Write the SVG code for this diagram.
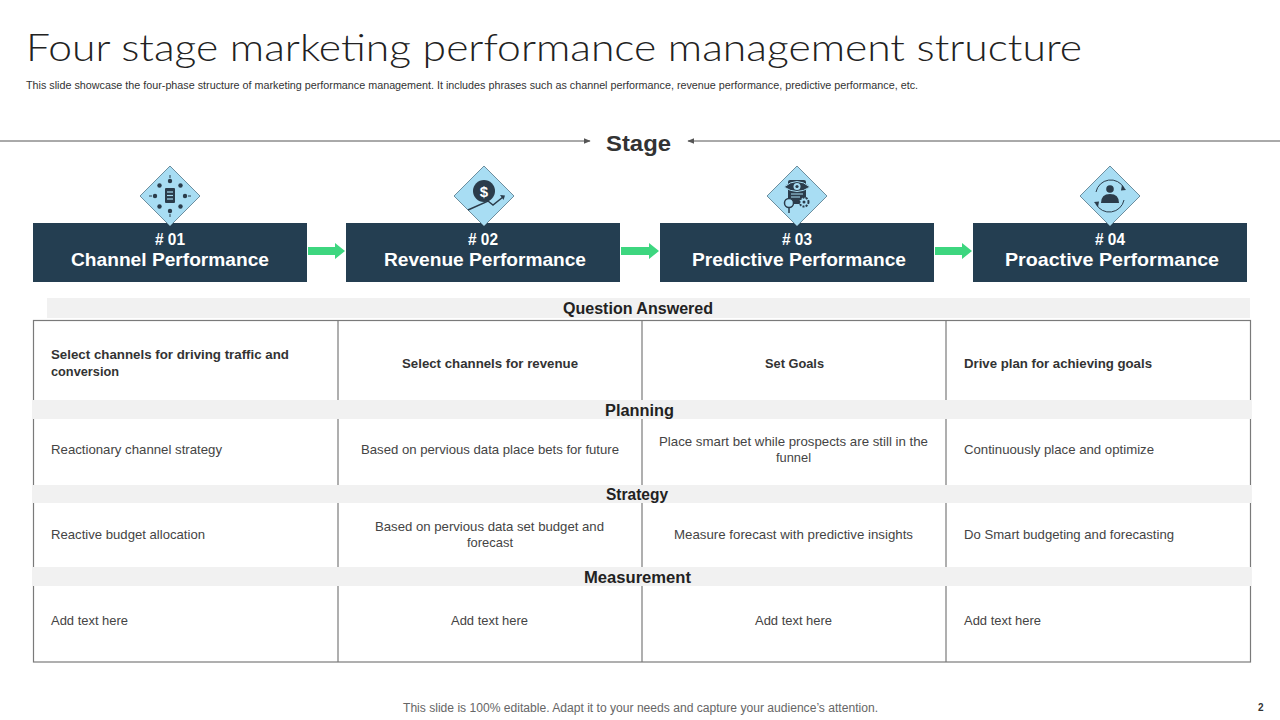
<svg xmlns="http://www.w3.org/2000/svg" width="1280" height="720" viewBox="0 0 1280 720">
<style>
.title{font-family:"Lato","Liberation Sans",sans-serif;font-weight:300;font-size:38px;fill:#222}
.sub{font-family:"Liberation Sans",sans-serif;font-size:10px;fill:#333}
.stage{font-family:"Liberation Sans",sans-serif;font-weight:bold;font-size:22px;fill:#333}
.num{font-family:"Liberation Sans",sans-serif;font-weight:bold;font-size:16px;fill:#fff}
.name{font-family:"Liberation Sans",sans-serif;font-weight:bold;font-size:19px;fill:#fff}
.band{fill:#f1f1f1}
.head{font-family:"Liberation Sans",sans-serif;font-weight:bold;font-size:16px;fill:#222}
.q{font-family:"Liberation Sans",sans-serif;font-weight:bold;font-size:13px;fill:#333}
.t{font-family:"Liberation Sans",sans-serif;font-size:13px;fill:#444}
.foot{font-family:"Liberation Sans",sans-serif;font-size:12px;fill:#666}
.box{fill:#243e51}
.dia{fill:#a8ddf3;stroke:#6d8e9e;stroke-width:1}
.ic{fill:#2b3c4b}
.icl{stroke:#2b3c4b;fill:none}
.grid{stroke:#7a7a7a;stroke-width:1.2;fill:none}
.garrow{fill:#3dd67f}
</style>
<defs>
<marker id="ah" viewBox="0 0 10 10" refX="9" refY="5" markerWidth="7" markerHeight="7" orient="auto-start-reverse">
<path d="M0,1 L10,5 L0,9 Z" fill="#555"/>
</marker>
</defs>
<rect x="0" y="0" width="1280" height="720" fill="#fff"/>

<g id="title">
<text class="title" x="26" y="61" textLength="1056" lengthAdjust="spacingAndGlyphs">Four stage marketing performance management structure</text>
<text class="sub" x="26" y="89" textLength="892" lengthAdjust="spacingAndGlyphs">This slide showcase the four-phase structure of marketing performance management.  It includes phrases such as channel performance, revenue performance, predictive performance, etc.</text>
</g>

<g id="stage">
<text class="stage" x="638.5" y="151" text-anchor="middle" textLength="65" lengthAdjust="spacingAndGlyphs">Stage</text>
</g>

<g id="connectors">
<line x1="0" y1="141" x2="590" y2="141" stroke="#555" stroke-width="1" marker-end="url(#ah)"/>
<line x1="1280" y1="141" x2="688" y2="141" stroke="#555" stroke-width="1" marker-end="url(#ah)"/>
<path class="garrow" d="M308,247 H335 V243 L345,251 L335,259 V255 H308 Z"/>
<path class="garrow" d="M621,247 H649 V243 L659,251 L649,259 V255 H621 Z"/>
<path class="garrow" d="M935,247 H962 V243 L972,251 L962,259 V255 H935 Z"/>
</g>

<g id="node1">
<rect class="box" x="33" y="223" width="274" height="59"/>
<text class="num" x="170" y="245" text-anchor="middle" textLength="30" lengthAdjust="spacingAndGlyphs"># 01</text>
<text class="name" x="170" y="266" text-anchor="middle" textLength="198" lengthAdjust="spacingAndGlyphs">Channel Performance</text>
<polygon class="dia" points="170,166 200,196 170,226 140,196"/>
<rect class="ic" x="165" y="188" width="10" height="15" rx="1"/>
<line x1="167" y1="192" x2="173" y2="192" stroke="#a8ddf3" stroke-width="1.2"/>
<line x1="167" y1="195.5" x2="173" y2="195.5" stroke="#a8ddf3" stroke-width="1.2"/>
<line x1="167" y1="199" x2="173" y2="199" stroke="#a8ddf3" stroke-width="1.2"/>
<g class="ic">
<circle cx="170" cy="181" r="2.2"/><circle cx="170" cy="211" r="2.2"/>
<circle cx="155" cy="196" r="2.2"/><circle cx="185" cy="196" r="2.2"/>
<circle cx="159.5" cy="185.5" r="2.2"/><circle cx="180.5" cy="185.5" r="2.2"/>
<circle cx="159.5" cy="206.5" r="2.2"/><circle cx="180.5" cy="206.5" r="2.2"/>
</g>
<g class="icl" stroke-width="1">
<line x1="170" y1="175" x2="170" y2="178"/><line x1="170" y1="214" x2="170" y2="217"/>
<line x1="149" y1="196" x2="152" y2="196"/><line x1="188" y1="196" x2="191" y2="196"/>
</g>
</g>

<g id="node2">
<rect class="box" x="346" y="223" width="274" height="59"/>
<text class="num" x="483" y="245" text-anchor="middle" textLength="30" lengthAdjust="spacingAndGlyphs"># 02</text>
<text class="name" x="485" y="266" text-anchor="middle" textLength="202" lengthAdjust="spacingAndGlyphs">Revenue Performance</text>
<polygon class="dia" points="484,166 514,196 484,226 454,196"/>
<circle class="ic" cx="484" cy="191" r="11"/>
<text x="484" y="197" text-anchor="middle" font-family="Liberation Sans,sans-serif" font-weight="bold" font-size="15" fill="#fff">$</text>
<polyline class="icl" stroke-width="1.5" points="468,210 488,201 493,205 503,197"/>
<path class="ic" d="M500,195 L505,195.5 L503.5,200 Z"/>
</g>

<g id="node3">
<rect class="box" x="660" y="223" width="274" height="59"/>
<text class="num" x="797" y="245" text-anchor="middle" textLength="30" lengthAdjust="spacingAndGlyphs"># 03</text>
<text class="name" x="799" y="266" text-anchor="middle" textLength="214" lengthAdjust="spacingAndGlyphs">Predictive Performance</text>
<polygon class="dia" points="797,166 827,196 797,226 767,196"/>
<rect class="ic" x="788" y="180" width="18" height="24" rx="2"/>
<path d="M784,187 Q797,176 810,187 Q797,196 784,187 Z" fill="#2b3c4b" stroke="#a8ddf3" stroke-width="1"/>
<circle cx="797" cy="186.5" r="3.5" fill="#a8ddf3"/>
<circle cx="797" cy="186.5" r="1.6" fill="#2b3c4b"/>
<line x1="791" y1="194" x2="803" y2="194" stroke="#a8ddf3" stroke-width="1"/>
<line x1="791" y1="197" x2="800" y2="197" stroke="#a8ddf3" stroke-width="1"/>
<circle cx="789" cy="203" r="4.5" fill="#a8ddf3" stroke="#2b3c4b" stroke-width="1.5"/>
<line x1="789" y1="207.5" x2="789" y2="213" stroke="#2b3c4b" stroke-width="1.5"/>
<circle cx="804" cy="202" r="4.5" fill="#a8ddf3" stroke="#2b3c4b" stroke-width="2" stroke-dasharray="2 1.2"/>
<circle cx="804" cy="202" r="1.5" class="ic"/>
</g>

<g id="node4">
<rect class="box" x="973" y="223" width="274" height="59"/>
<text class="num" x="1110" y="245" text-anchor="middle" textLength="30" lengthAdjust="spacingAndGlyphs"># 04</text>
<text class="name" x="1112" y="266" text-anchor="middle" textLength="214" lengthAdjust="spacingAndGlyphs">Proactive  Performance</text>
<polygon class="dia" points="1110,166 1140,196 1110,226 1080,196"/>
<circle class="ic" cx="1110" cy="189" r="3.8"/>
<path class="ic" d="M1101,203 Q1101,194 1110,194 Q1119,194 1119,203 Z"/>
<path class="icl" stroke-width="1" d="M1096,192 A15,15 0 0 1 1124,188"/>
<path class="ic" d="M1122,185 L1126,190 L1121,190.5 Z"/>
<path class="icl" stroke-width="1" d="M1124,200 A15,15 0 0 1 1096,204"/>
<path class="ic" d="M1098,207 L1094,202 L1099,201.5 Z"/>
</g>

<g id="table">
<rect class="band" x="47" y="298" width="1203" height="20"/>
<text class="head" x="638" y="314" text-anchor="middle" textLength="150" lengthAdjust="spacingAndGlyphs">Question Answered</text>
<rect class="grid" x="33.5" y="320.5" width="1217" height="341.5"/>
<line class="grid" x1="338" y1="320.5" x2="338" y2="662"/>
<line class="grid" x1="642" y1="320.5" x2="642" y2="662"/>
<line class="grid" x1="946" y1="320.5" x2="946" y2="662"/>
<rect class="band" x="33" y="400" width="1218" height="19"/>
<rect class="band" x="33" y="485" width="1218" height="18"/>
<rect class="band" x="33" y="567" width="1218" height="19"/>
<text class="head" x="639.5" y="416" text-anchor="middle" textLength="69" lengthAdjust="spacingAndGlyphs">Planning</text>
<text class="head" x="637" y="500" text-anchor="middle" textLength="62" lengthAdjust="spacingAndGlyphs">Strategy</text>
<text class="head" x="637.5" y="583" text-anchor="middle" textLength="107" lengthAdjust="spacingAndGlyphs">Measurement</text>

<text class="q" x="51" y="359" textLength="238" lengthAdjust="spacingAndGlyphs">Select channels for driving traffic and</text>
<text class="q" x="51" y="376" textLength="68" lengthAdjust="spacingAndGlyphs">conversion</text>
<text class="q" x="490" y="368" text-anchor="middle" textLength="176" lengthAdjust="spacingAndGlyphs">Select channels for revenue</text>
<text class="q" x="794.5" y="368" text-anchor="middle" textLength="59" lengthAdjust="spacingAndGlyphs">Set Goals</text>
<text class="q" x="964" y="368" textLength="188" lengthAdjust="spacingAndGlyphs">Drive plan for achieving goals</text>

<text class="t" x="51" y="454" textLength="171" lengthAdjust="spacingAndGlyphs">Reactionary channel strategy</text>
<text class="t" x="490" y="454" text-anchor="middle" textLength="258" lengthAdjust="spacingAndGlyphs">Based on pervious  data place bets for future</text>
<text class="t" x="793.5" y="446" text-anchor="middle" textLength="269" lengthAdjust="spacingAndGlyphs">Place smart bet while prospects are still in the</text>
<text class="t" x="793.5" y="462" text-anchor="middle" textLength="35" lengthAdjust="spacingAndGlyphs">funnel</text>
<text class="t" x="964" y="454" textLength="190" lengthAdjust="spacingAndGlyphs">Continuously place and optimize</text>

<text class="t" x="51" y="539" textLength="154" lengthAdjust="spacingAndGlyphs">Reactive  budget allocation</text>
<text class="t" x="489.5" y="531" text-anchor="middle" textLength="229" lengthAdjust="spacingAndGlyphs">Based on pervious  data set budget and</text>
<text class="t" x="490" y="547" text-anchor="middle" textLength="46" lengthAdjust="spacingAndGlyphs">forecast</text>
<text class="t" x="793.5" y="539" text-anchor="middle" textLength="239" lengthAdjust="spacingAndGlyphs">Measure forecast with predictive  insights</text>
<text class="t" x="964" y="539" textLength="210" lengthAdjust="spacingAndGlyphs">Do Smart budgeting and forecasting</text>

<text class="t" x="51" y="625" textLength="77" lengthAdjust="spacingAndGlyphs">Add text here</text>
<text class="t" x="489.5" y="625" text-anchor="middle" textLength="77" lengthAdjust="spacingAndGlyphs">Add text here</text>
<text class="t" x="793.5" y="625" text-anchor="middle" textLength="77" lengthAdjust="spacingAndGlyphs">Add text here</text>
<text class="t" x="964" y="625" textLength="77" lengthAdjust="spacingAndGlyphs">Add text here</text>
</g>

<g id="footer">
<text class="foot" x="640.5" y="712" text-anchor="middle" textLength="475" lengthAdjust="spacingAndGlyphs">This slide is 100% editable. Adapt it to your needs and capture your audience’s attention.</text>
<text x="1258" y="711" font-family="Liberation Sans,sans-serif" font-weight="bold" font-size="10" fill="#333">2</text>
</g>
</svg>
